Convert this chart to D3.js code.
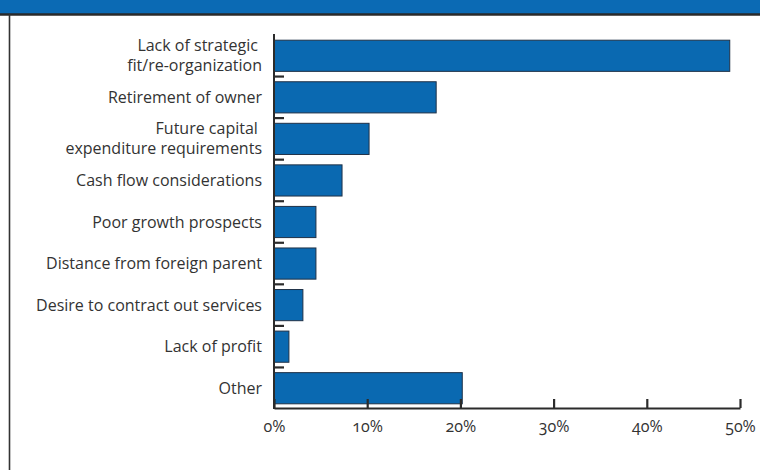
<!DOCTYPE html>
<html>
<head>
<meta charset="utf-8">
<script src="https://cdn.jsdelivr.net/npm/d3@7"></script>
<style>
  html, body { margin: 0; padding: 0; background: #fff; }
  svg { display: block; font-family: "Open Sans", "DejaVu Sans", sans-serif; }
  .lbl { white-space: pre; }
</style>
</head>
<body>
<svg id="chart" width="760" height="470"></svg>
<script>
// Reasons for divestiture (share of respondents, %)
const categories = [
  ["Lack of strategic ", "fit/re-organization"],
  ["Retirement of owner"],
  ["Future capital ", "expenditure requirements"],
  ["Cash flow considerations"],
  ["Poor growth prospects"],
  ["Distance from foreign parent"],
  ["Desire to contract out services"],
  ["Lack of profit"],
  ["Other"]
];
const values = [48.9, 17.4, 10.2, 7.3, 4.5, 4.5, 3.1, 1.6, 20.2];
const tickValues = [0, 10, 20, 30, 40, 50];
const tickLabels = ["0%", "10%", "20%", "30%", "40%", "50%"];

const svg = d3.select("#chart");
const blue = "#0a69b1";
const dark = "#2b2b2b";

// header band and frame
svg.append("rect").attr("x", 0).attr("y", 0).attr("width", 760).attr("height", 14).attr("fill", "#0b6ab4");
svg.append("line").attr("x1", 0).attr("x2", 760).attr("y1", 14.5).attr("y2", 14.5)
  .attr("stroke", "#2a2a2a").attr("stroke-width", 2.5);
svg.append("line").attr("x1", 9.5).attr("x2", 9.5).attr("y1", 14).attr("y2", 470)
  .attr("stroke", "#333").attr("stroke-width", 1.6);

const x = d3.scaleLinear().domain([0, 50]).range([274, 740]);
const keys = categories.map((c, i) => i);
const y = d3.scaleBand().domain(keys).range([35, 409]).paddingInner(0.25).paddingOuter(0.125);

// bars
svg.append("g").selectAll("rect").data(values).join("rect")
  .attr("x", x(0))
  .attr("y", (d, i) => y(i))
  .attr("width", d => x(d) - x(0))
  .attr("height", y.bandwidth())
  .attr("fill", blue)
  .attr("stroke", "#1f3147")
  .attr("stroke-width", 1);

// category separators on the left axis
const bounds = keys.slice(1).map(i => y(i) - y.step() * y.paddingInner() / 2);
svg.append("g").selectAll("line").data(bounds).join("line")
  .attr("x1", 274).attr("x2", 284)
  .attr("y1", d => d).attr("y2", d => d)
  .attr("stroke", dark).attr("stroke-width", 2.2);

// left axis line
svg.append("line").attr("x1", 274).attr("x2", 274).attr("y1", 34).attr("y2", 409)
  .attr("stroke", dark).attr("stroke-width", 2);

// bottom axis
const xAxis = d3.axisBottom(x).tickValues(tickValues)
  .tickFormat((d, i) => tickLabels[i]).tickSizeInner(-9).tickSizeOuter(0).tickPadding(13);
const gx = svg.append("g").attr("transform", "translate(0,408)").call(xAxis);
gx.select(".domain").attr("stroke", dark).attr("stroke-width", 2.2);
gx.selectAll(".tick line").attr("stroke", dark).attr("stroke-width", 2.2);
gx.selectAll(".tick text").attr("fill", "#333").attr("font-size", 16)
  .style("font-variant-numeric", "oldstyle-nums")
  .attr("font-family", "'Open Sans', sans-serif");

// category labels
const lg = svg.append("g");
categories.forEach((lines, i) => {
  const cy = y(i) + y.bandwidth() / 2;
  const n = lines.length;
  lines.forEach((t, j) => {
    lg.append("text").attr("class", "lbl")
      .attr("x", 262)
      .attr("y", cy + (j - (n - 1) / 2) * 20)
      .attr("dy", "0.35em")
      .attr("text-anchor", "end")
      .attr("font-size", 16)
      .attr("fill", "#333")
      .text(t);
  });
});
</script>
</body>
</html>
